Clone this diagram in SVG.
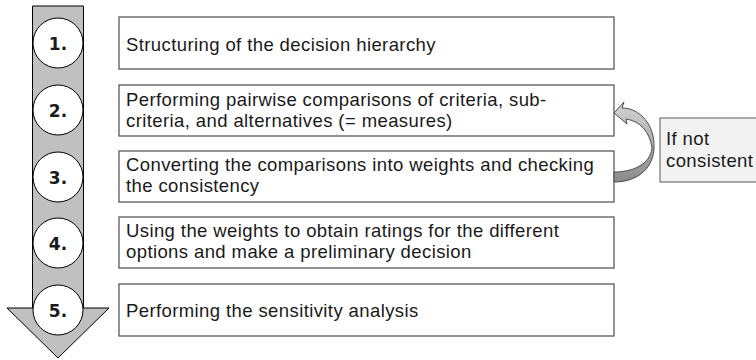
<svg xmlns="http://www.w3.org/2000/svg" width="756" height="360" viewBox="0 0 756 360">
<defs>
<style>
.box{fill:#ffffff;stroke:#595959;stroke-width:1.3}
.t{font-family:"Liberation Sans",Arial,sans-serif;font-size:18.5px;letter-spacing:0.4px;fill:#1a1a1a}
.c{fill:#ffffff;stroke:#000000;stroke-width:1}
.n{font-family:"DejaVu Sans",Verdana,sans-serif;font-weight:bold;font-size:17px;fill:#1a1a1a;text-anchor:middle}
</style>
<linearGradient id="g" x1="0" y1="0" x2="0" y2="1">
<stop offset="0" stop-color="#d4d4d4"/>
<stop offset="1" stop-color="#8a8a8a"/>
</linearGradient>
</defs>
<g id="main-arrow">
<path d="M32.5 6 L83.5 6 L83.5 308 L109 308 L58 358 L7 308 L32.5 308 Z" fill="#c0c0c0" stroke="#000" stroke-width="1"/>
</g>
<g id="step1">
<circle class="c" cx="58" cy="43" r="25"/>
<text class="n" x="58" y="49.5">1.</text>
<rect class="box" x="119" y="17" width="495" height="52"/>
<text class="t" x="126" y="50.5">Structuring of the decision hierarchy</text>
</g>
<g id="step2">
<circle class="c" cx="58" cy="110" r="25"/>
<text class="n" x="58" y="116.5">2.</text>
<rect class="box" x="119" y="85" width="495" height="51"/>
<text class="t" x="126" y="106">Performing pairwise comparisons of criteria, sub-</text>
<text class="t" x="126" y="127">criteria, and alternatives (= measures)</text>
</g>
<g id="step3">
<circle class="c" cx="58" cy="177" r="25"/>
<text class="n" x="58" y="183.5">3.</text>
<rect class="box" x="119" y="151" width="495" height="51"/>
<text class="t" x="126" y="171">Converting the comparisons into weights and checking</text>
<text class="t" x="126" y="192">the consistency</text>
</g>
<g id="step4">
<circle class="c" cx="58" cy="243" r="25"/>
<text class="n" x="58" y="249.5">4.</text>
<rect class="box" x="119" y="217" width="495" height="51"/>
<text class="t" x="126" y="236.5">Using the weights to obtain ratings for the different</text>
<text class="t" x="126" y="257.5">options and make a preliminary decision</text>
</g>
<g id="step5">
<circle class="c" cx="58" cy="310" r="25"/>
<text class="n" x="58" y="316.5">5.</text>
<rect class="box" x="119" y="284" width="495" height="52"/>
<text class="t" x="126" y="317">Performing the sensitivity analysis</text>
</g>
<g id="note">
<rect x="660" y="118" width="100" height="64" fill="#f2f2f2" stroke="#7f7f7f" stroke-width="1.3"/>
<text class="t" x="666" y="145">If not</text>
<text class="t" x="666" y="167">consistent</text>
</g>
<g id="connectors">
<path d="M614 172 C632 172 650 165 652 148 C650 132 640 121 626 119 L627 124 L614 113 L624 102 L622 108 C640 108 655 125 654 148 C653 170 636 182 614 182 Z" fill="url(#g)" stroke="#4d4d4d" stroke-width="1"/>
</g>
</svg>
